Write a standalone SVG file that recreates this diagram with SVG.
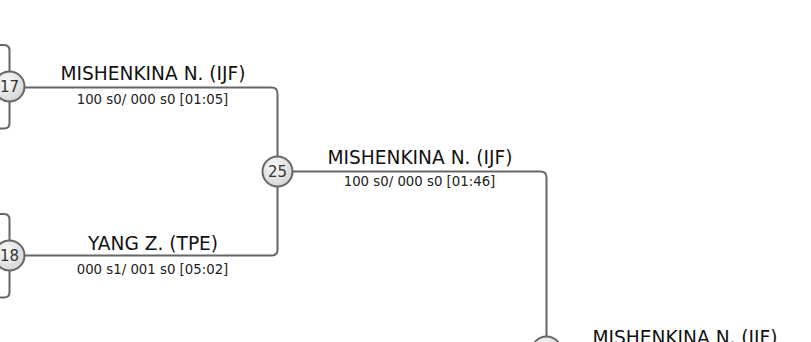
<svg xmlns="http://www.w3.org/2000/svg" width="811" height="342" viewBox="0 0 811 342">
<defs>
<radialGradient id="g" cx="40%" cy="35%" r="70%">
<stop offset="0" stop-color="#fafafa"/>
<stop offset="1" stop-color="#d4d4d4"/>
</radialGradient>
<style>
.c{fill:url(#g);stroke:#666;stroke-width:2}
.l{fill:none;stroke:#666;stroke-width:2}
.n{font-family:"DejaVu Sans",sans-serif;font-size:18.6px;fill:#111;text-anchor:middle}
.s{font-family:"DejaVu Sans",sans-serif;font-size:13.3px;fill:#222;text-anchor:middle}
.t{font-family:"DejaVu Sans",sans-serif;font-size:15px;fill:#333;text-anchor:middle}
</style>
</defs>
<rect width="811" height="342" fill="#fff"/>
<g id="connectors">
<path class="l" d="M-10 45 H4 Q9.5 45 9.5 50.5 V123 Q9.5 128.5 4 128.5 H-10"/>
<path class="l" d="M-10 214 H4 Q9.5 214 9.5 219.5 V292 Q9.5 297.5 4 297.5 H-10"/>
<path class="l" d="M24 87.5 H271.5 Q277.5 87.5 277.5 93.5 V157"/>
<path class="l" d="M24 255.5 H271.5 Q277.5 255.5 277.5 249.5 V187"/>
<path class="l" d="M293 171.5 H540.5 Q546.5 171.5 546.5 177.5 V336"/>
</g>
<g id="node17"><circle class="c" cx="9.5" cy="86.5" r="15"/><text class="t" x="9.5" y="92">17</text></g>
<g id="node18"><circle class="c" cx="9.5" cy="255.5" r="15"/><text class="t" x="9.5" y="261">18</text></g>
<g id="node25"><circle class="c" cx="277.5" cy="171.5" r="15"/><text class="t" x="277.5" y="177">25</text></g>
<g id="nodeBottom"><circle class="c" cx="546.5" cy="351.5" r="15"/></g>
<g id="labels">
<text class="n" x="153" y="79.5">MISHENKINA N. (IJF)</text>
<text class="s" x="152.5" y="104">100 s0/ 000 s0 [01:05]</text>
<text class="n" x="153" y="250">YANG Z. (TPE)</text>
<text class="s" x="152.5" y="273.5">000 s1/ 001 s0 [05:02]</text>
<text class="n" x="420" y="163.5">MISHENKINA N. (IJF)</text>
<text class="s" x="419.5" y="185.5">100 s0/ 000 s0 [01:46]</text>
<text class="n" x="685" y="343.5">MISHENKINA N. (IJF)</text>
</g>
</svg>
